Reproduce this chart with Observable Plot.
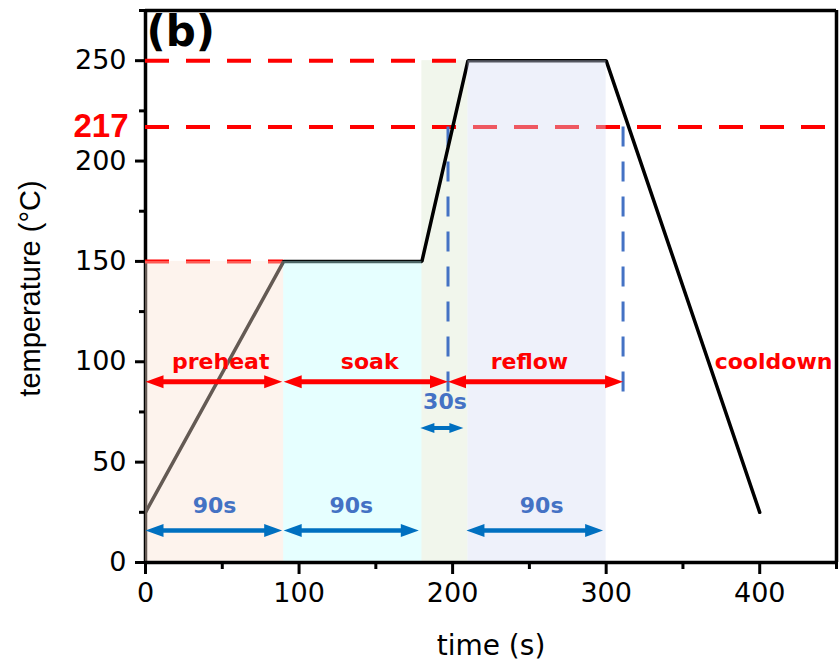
<!DOCTYPE html>
<html><head><meta charset="utf-8">
<script src="https://cdn.jsdelivr.net/npm/d3@7"></script>
<script src="https://cdn.jsdelivr.net/npm/@observablehq/plot@0.6"></script>
<style>body{margin:0;background:#fff}</style>
</head><body><div id="chart"></div>
<script>
// Reflow temperature profile
const profileTime = [0, 90, 180, 210, 300, 400];
const profileTemp = [25, 150, 150, 250, 250, 25];

// shaded stage bands
const bandStart = [0, 90, 180, 210];
const bandEnd = [90, 180, 210, 300];
const bandTop = [150, 150, 250, 250];

// red dashed reference temperatures
const refTemps = [250, 217, 150];
const refEndTime = [210, 450, 90];

// blue dashed verticals (time above 217 °C)
const liquidusTimes = [197, 311];
const liquidusLow = 85, liquidusHigh = 218;

// stage arrows and labels
const stageNames = ["preheat", "soak", "reflow", "cooldown"];
const stageLabelTime = [49, 146, 250, 409];
const stageLabelTemp = 100;
const stageArrowStart = [0, 90, 197];
const stageArrowEnd = [89, 197, 311];
const stageArrowTemp = 90;

// duration arrows and labels
const durationText = ["90s", "90s", "90s"];
const durationLabelTime = [45, 134, 258];
const durationLabelTemp = 28;
const durationArrowStart = [0, 90, 209];
const durationArrowEnd = [89, 178, 298];
const durationArrowTemp = 16;

const shortText = ["30s"];
const shortLabelTime = [195];
const shortLabelTemp = 80;
const shortArrowStart = [179];
const shortArrowEnd = [207];
const shortArrowTemp = 67;

// axis ticks
const xMajor = [0, 100, 200, 300, 400];
const xMinor = [50, 150, 250, 350, 450];
const yMajor = [0, 50, 100, 150, 200, 250];
const yMinor = [25, 75, 125, 175, 225, 275];
const highlightTemp = [217];

// tables
const profile = profileTime.map((t, i) => ({t, T: profileTemp[i]}));
const bands = bandStart.map((s, i) => ({x1: s, x2: bandEnd[i], y2: bandTop[i], i}));
const levels = refTemps.map((T, i) => ({T, x2: refEndTime[i]}));
const liquidus = liquidusTimes.map(x => ({x}));
const stageArrows = stageArrowStart.map((s, i) => ({x1: s, x2: stageArrowEnd[i], y: stageArrowTemp}));
const stageLabels = stageNames.map((n, i) => ({n, x: stageLabelTime[i], y: stageLabelTemp}));
const durArrows = durationArrowStart.map((s, i) => ({x1: s, x2: durationArrowEnd[i], y: durationArrowTemp}));
const durLabels = durationText.map((n, i) => ({n, x: durationLabelTime[i], y: durationLabelTemp}));
const shortArrows = shortArrowStart.map((s, i) => ({x1: s, x2: shortArrowEnd[i], y: shortArrowTemp}));
const shortLabels = shortText.map((n, i) => ({n, x: shortLabelTime[i], y: shortLabelTemp}));

// arrowhead symbols (tip at the data point)
const head = (dir, len, half) => ({draw(ctx) {
  ctx.moveTo(0, 0); ctx.lineTo(-dir * len, -half); ctx.lineTo(-dir * len, half); ctx.closePath();
}});
const headR = head(1, 18, 6.5), headL = head(-1, 18, 6.5);
const smallR = head(1, 14, 5), smallL = head(-1, 14, 5);

const RED = "#ff0000", BLUE_T = "#4472c4", BLUE_A = "#0070c0";
const SANS = "DejaVu Sans";

function arrows(data, color, width, hl, hr, inset) {
  return [
    Plot.ruleY(data, {y: "y", x1: "x1", x2: "x2", stroke: color, strokeWidth: width, insetLeft: inset, insetRight: inset}),
    Plot.dot(data, {x: "x1", y: "y", symbol: hl, r: 5, fill: color, stroke: "none"}),
    Plot.dot(data, {x: "x2", y: "y", symbol: hr, r: 5, fill: color, stroke: "none"})
  ];
}

const chart = Plot.plot({
  width: 840, height: 666,
  marginLeft: 145, marginRight: 4, marginTop: 10, marginBottom: 104,
  x: {domain: [0, 450]},
  y: {domain: [0, 275]},
  style: {fontFamily: SANS, fontSize: "27px", background: "white", color: "black", overflow: "visible"},
  marks: [
    Plot.rect(bands.filter(d => d.i === 2), {x1: "x1", x2: "x2", y1: 0, y2: "y2", fill: "#f1f6ec"}),
    Plot.ruleX([0], {strokeWidth: 3.5}),
    Plot.ruleY(levels, {y: "T", x1: 0, x2: "x2", stroke: RED, strokeWidth: 4, strokeDasharray: "24,17"}),
    Plot.ruleX(liquidus, {x: "x", y1: liquidusLow, y2: liquidusHigh, stroke: BLUE_T, strokeWidth: 3, strokeDasharray: "20,15"}),
    Plot.line(profile, {x: "t", y: "T", stroke: "black", strokeWidth: 3.5, strokeLinejoin: "miter"}),
    Plot.rect(bands.filter(d => d.i === 0), {x1: "x1", x2: "x2", y1: 0, y2: "y2", fill: "#fae1d2", fillOpacity: 0.4}),
    Plot.rect(bands.filter(d => d.i === 1), {x1: "x1", x2: "x2", y1: 0, y2: "y2", fill: "#c0ffff", fillOpacity: 0.4}),
    Plot.rect(bands.filter(d => d.i === 3), {x1: "x1", x2: "x2", y1: 0, y2: "y2", fill: "#d4dcf2", fillOpacity: 0.4}),
    Plot.ruleY([0], {strokeWidth: 3.5}),
    Plot.ruleY([275], {strokeWidth: 3.5}),
    Plot.ruleX([450], {strokeWidth: 3.5}),
    Plot.axisX(xMajor, {tickSize: 12, tickPadding: 8, strokeWidth: 3, label: null, fontSize: 27}),
    Plot.axisX(xMinor, {tickSize: 7, text: null, strokeWidth: 3, label: null}),
    Plot.axisY(yMajor, {tickSize: 10, tickPadding: 9, strokeWidth: 3, label: null, fontSize: 27}),
    Plot.axisY(yMinor, {tickSize: 6, text: null, strokeWidth: 3, label: null}),
    ...arrows(stageArrows, RED, 5, headL, headR, 10),
    ...arrows(durArrows, BLUE_A, 4.5, headL, headR, 10),
    ...arrows(shortArrows, BLUE_A, 4, smallL, smallR, 8),
    Plot.text(stageLabels, {x: "x", y: "y", text: "n", fill: RED, fontWeight: "bold", fontSize: 22, fontFamily: SANS}),
    Plot.text(durLabels, {x: "x", y: "y", text: "n", fill: BLUE_T, fontWeight: "bold", fontSize: 22, fontFamily: SANS}),
    Plot.text(shortLabels, {x: "x", y: "y", text: "n", fill: BLUE_T, fontWeight: "bold", fontSize: 22, fontFamily: SANS}),
    Plot.text(highlightTemp, {x: 0, y: d => d, text: d => String(d), textAnchor: "end", dx: -17, fill: RED, fontWeight: "bold", fontSize: 33, fontFamily: "Liberation Sans"}),
    Plot.text(["(b)"], {frameAnchor: "top-left", lineAnchor: "top", dx: 1, dy: 6, textAnchor: "start", fontWeight: "bold", fontSize: 42, fontFamily: SANS}),
    Plot.text(["time (s)"], {frameAnchor: "bottom", lineAnchor: "middle", dy: 84, fontSize: 28, fontFamily: SANS}),
    Plot.text(["temperature (°C)"], {frameAnchor: "left", textAnchor: "middle", lineAnchor: "middle", rotate: -90, dx: -115, dy: 2, fontSize: 29, fontFamily: "Liberation Sans"})
  ]
});
document.getElementById("chart").appendChild(chart);
</script>
</body></html>
